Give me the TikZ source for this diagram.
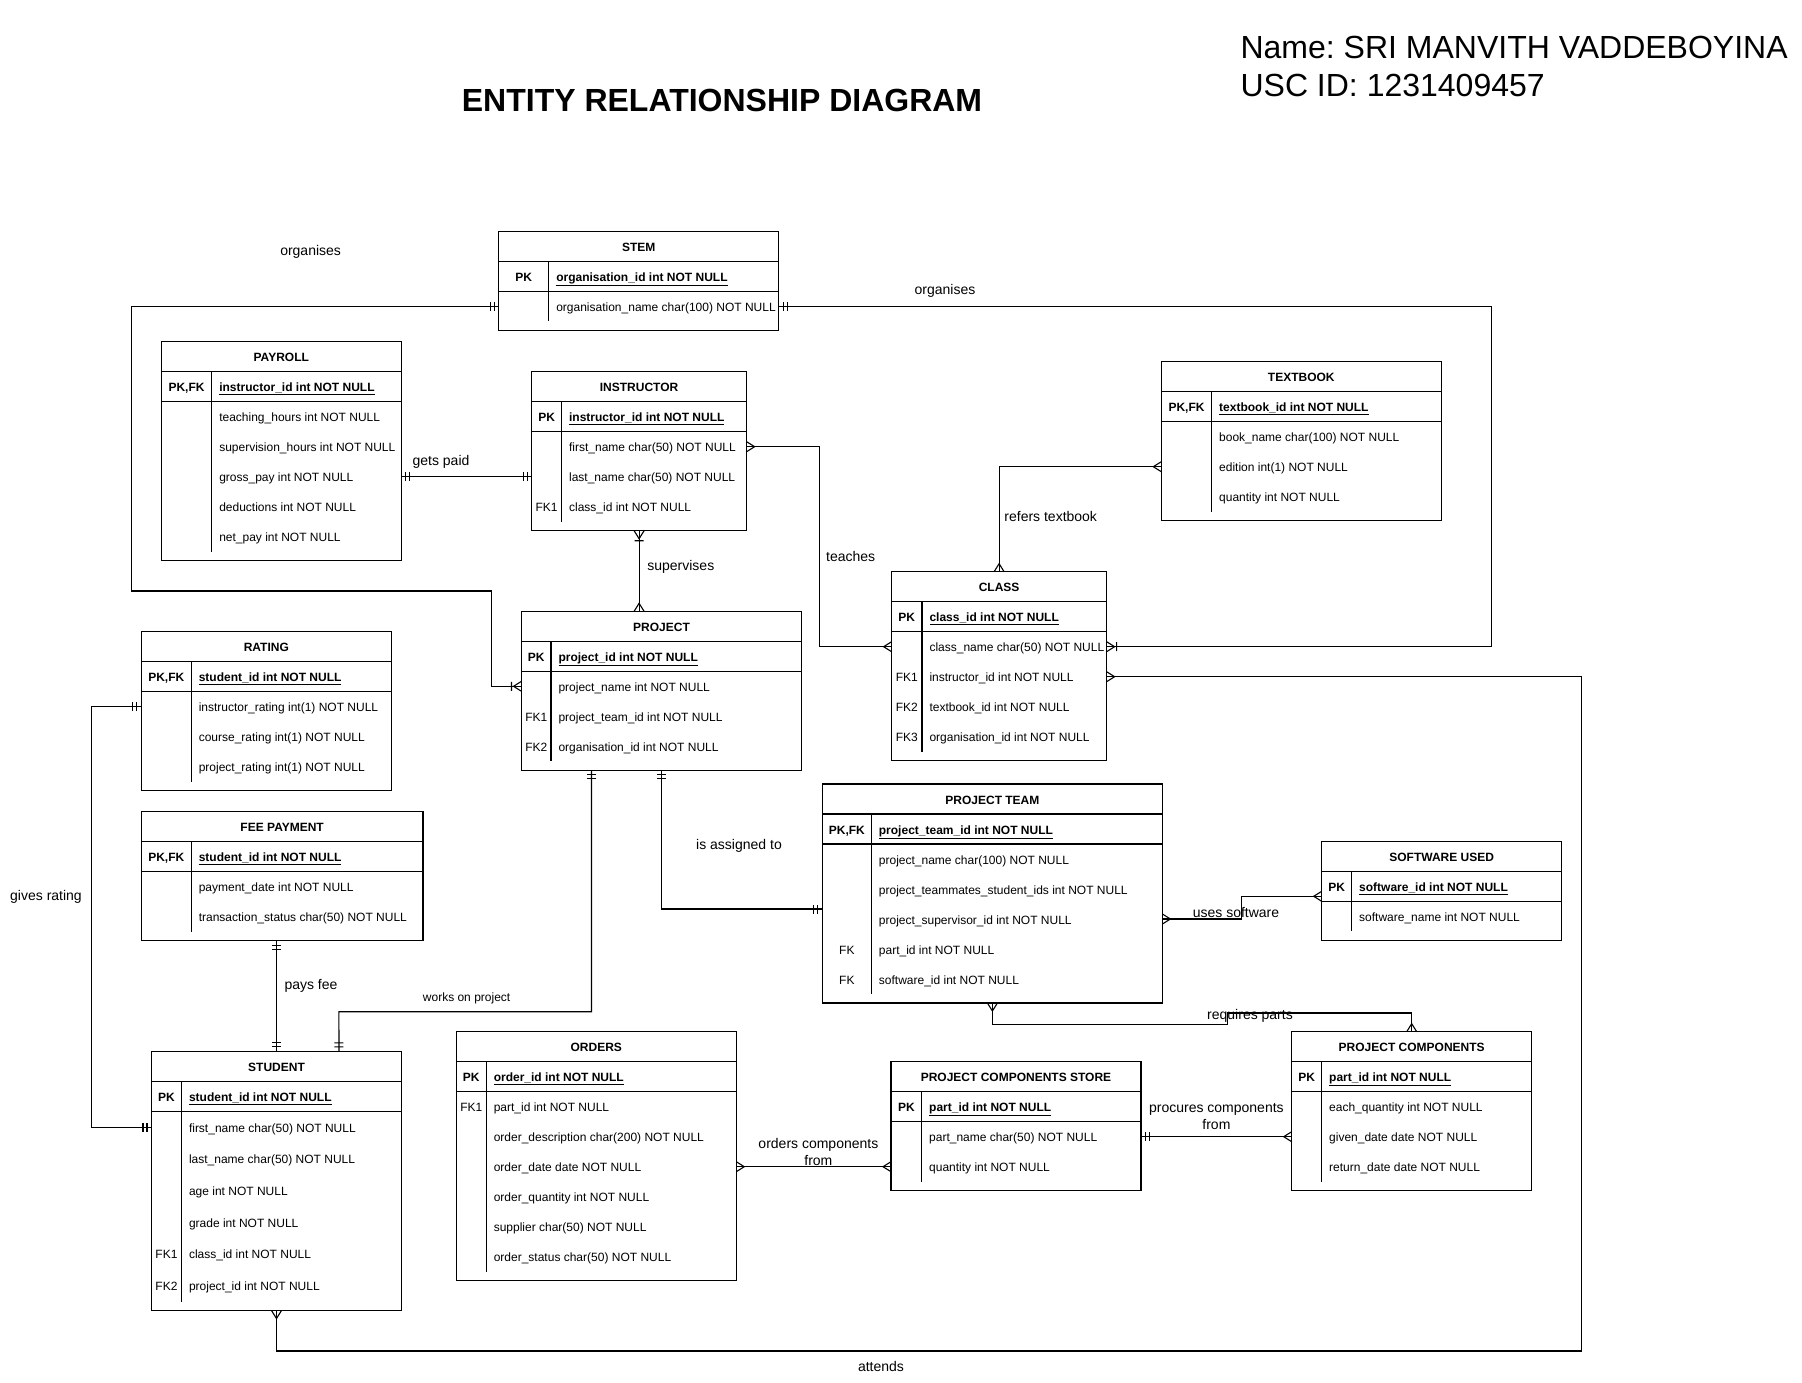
\documentclass[tikz,border=0pt]{standalone}
\usepackage{fontspec}
\setmainfont{Liberation Sans}
\usetikzlibrary{positioning,arrows.meta}
\frenchspacing

\newcommand{\cellfont}{\fontsize{12}{14}\selectfont}
\newcommand{\cellbold}{\fontsize{12}{14}\selectfont\bfseries}
\newcommand{\relfont}{\fontsize{14}{16.7}\selectfont}

% crow's foot ends
\pgfdeclarearrow{
  name=erone,
  setup code={\pgfarrowssettipend{0pt}\pgfarrowssetlineend{0pt}\pgfarrowssetbackend{-9pt}},
  drawing code={
    \pgfpathmoveto{\pgfqpoint{-4.5pt}{-4.5pt}}\pgfpathlineto{\pgfqpoint{-4.5pt}{4.5pt}}
    \pgfpathmoveto{\pgfqpoint{-8.5pt}{-4.5pt}}\pgfpathlineto{\pgfqpoint{-8.5pt}{4.5pt}}
    \pgfusepathqstroke}
}
\pgfdeclarearrow{
  name=ermany,
  setup code={\pgfarrowssettipend{0pt}\pgfarrowssetlineend{0pt}\pgfarrowssetbackend{-8pt}},
  drawing code={
    \pgfpathmoveto{\pgfqpoint{0pt}{5pt}}\pgfpathlineto{\pgfqpoint{-8pt}{0pt}}
    \pgfpathlineto{\pgfqpoint{0pt}{-5pt}}
    \pgfusepathqstroke}
}
\pgfdeclarearrow{
  name=eronemany,
  setup code={\pgfarrowssettipend{0pt}\pgfarrowssetlineend{0pt}\pgfarrowssetbackend{-10pt}},
  drawing code={
    \pgfpathmoveto{\pgfqpoint{0pt}{5pt}}\pgfpathlineto{\pgfqpoint{-8pt}{0pt}}
    \pgfpathlineto{\pgfqpoint{0pt}{-5pt}}
    \pgfpathmoveto{\pgfqpoint{-10pt}{-4.5pt}}\pgfpathlineto{\pgfqpoint{-10pt}{4.5pt}}
    \pgfusepathqstroke}
}

\tikzset{
  ertitle/.style={font=\cellbold, minimum height=30, inner sep=0, outer sep=0, text height=11pt, text depth=1pt},
  erkey/.style={font=\cellfont, inner sep=0, outer sep=0, text height=11pt, text depth=1pt},
  erfield/.style={font=\cellfont, inner sep=0, inner xsep=7.5pt, outer sep=0, text height=11pt, text depth=1pt},
  erframe/.style={draw, inner sep=0, outer sep=0},
  rel/.style={font=\relfont, inner sep=0},
}

% #1 name, #2 top left, #3 width, #4 key width, #5 row pitch, #6 title, #7 pk key, #8 pk field, #9 fields
\newcommand{\erentity}[9]{%
  \pgfmathsetlengthmacro\ertw{#3-#4-15}%
  \node[ertitle, minimum width=#3, anchor=north west] (#1-title) at (#2) {#6};
  \node[erkey, font=\cellbold, minimum width=#4, minimum height=30, anchor=north west] (#1-k0) at (#1-title.south west) {#7};
  \node[erfield, font=\cellbold, minimum height=30, anchor=west] (#1-t0) at (#1-k0.east) {\makebox[\ertw][l]{\underline{#8}}};
  \foreach \fkey/\ftxt [count=\i, remember=\i as \j (initially 0)] in {#9}{
    \node[erkey, minimum width=#4, minimum height=#5, anchor=north west] (#1-k\i) at (#1-k\j.south west) {\fkey};
    \node[erfield, minimum height=#5, anchor=west] (#1-t\i) at (#1-k\i.east) {\makebox[\ertw][l]{\ftxt}};
    \xdef\errows{\i}
  }
  \node[erframe, minimum width=#3, minimum height={60+\errows*#5+9}, anchor=north west] (#1) at (#2) {};
  \draw (#1-title.south west) -- (#1-title.south east);
  \draw (#1-k0.south west) -- (#1-k0.south west -| #1.east);
  \draw (#1-k0.north east) -- (#1-k\errows.south east);
}

\begin{document}
\begin{tikzpicture}[x=1pt, y=-1pt, line width=1.1pt]
  \fill[white] (0,0) rectangle (1802,1382);
  \useasboundingbox (0,0) rectangle (1802,1382);

  \node[font=\fontsize{32}{38}\selectfont\bfseries, inner sep=0] (heading) at (722,100) {ENTITY RELATIONSHIP DIAGRAM};
  \node[font=\fontsize{32}{38}\selectfont, anchor=west, inner sep=0] (name) at (1240,47) {Name: SRI MANVITH VADDEBOYINA};
  \node[font=\fontsize{32}{38}\selectfont, anchor=west, inner sep=0] (uscid) at (1240,85) {USC ID: 1231409457};

  \erentity{stem}{498.8,231.3}{280}{50}{30}{STEM}{PK}{organisation\_id int NOT NULL}{/organisation\_name char(100) NOT NULL}
  \erentity{payroll}{161.3,341.7}{240}{50.5}{30}{PAYROLL}{PK,FK}{instructor\_id int NOT NULL}{/teaching\_hours int NOT NULL, /supervision\_hours int NOT NULL, /gross\_pay int NOT NULL, /deductions int NOT NULL, /net\_pay int NOT NULL}
  \erentity{instructor}{531.6,371.7}{215}{30}{30}{INSTRUCTOR}{PK}{instructor\_id int NOT NULL}{/first\_name char(50) NOT NULL, /last\_name char(50) NOT NULL, FK1/class\_id int NOT NULL}
  \erentity{textbook}{1161.3,361.7}{280}{50.4}{30}{TEXTBOOK}{PK,FK}{textbook\_id int NOT NULL}{/book\_name char(100) NOT NULL, /edition int(1) NOT NULL, /quantity int NOT NULL}
  \erentity{class}{891.6,571.7}{215}{30.4}{30}{CLASS}{PK}{class\_id int NOT NULL}{/class\_name char(50) NOT NULL, FK1/instructor\_id int NOT NULL, FK2/textbook\_id int NOT NULL, FK3/organisation\_id int NOT NULL}
  \erentity{project}{521.5,611.3}{280}{29.5}{30}{PROJECT}{PK}{project\_id int NOT NULL}{/project\_name int NOT NULL, FK1/project\_team\_id int NOT NULL, FK2/organisation\_id int NOT NULL}
  \erentity{rating}{141.3,631.7}{250}{50}{30}{RATING}{PK,FK}{student\_id int NOT NULL}{/instructor\_rating int(1) NOT NULL, /course\_rating int(1) NOT NULL, /project\_rating int(1) NOT NULL}
  \erentity{fee}{141.3,811.7}{281.7}{50}{30}{FEE PAYMENT}{PK,FK}{student\_id int NOT NULL}{/payment\_date int NOT NULL, /transaction\_status char(50) NOT NULL}
  \erentity{pteam}{822.4,784}{340}{49}{30}{PROJECT TEAM}{PK,FK}{project\_team\_id int NOT NULL}{/project\_name char(100) NOT NULL, /project\_teammates\_student\_ids int NOT NULL, /project\_supervisor\_id int NOT NULL, FK/part\_id int NOT NULL, FK/software\_id int NOT NULL}
  \erentity{software}{1321.7,841.3}{240}{30}{30}{SOFTWARE USED}{PK}{software\_id int NOT NULL}{/software\_name int NOT NULL}
  \erentity{student}{151.5,1051.3}{250}{30}{31.7}{STUDENT}{PK}{student\_id int NOT NULL}{/first\_name char(50) NOT NULL, /last\_name char(50) NOT NULL, /age int NOT NULL, /grade int NOT NULL, FK1/class\_id int NOT NULL, FK2/project\_id int NOT NULL}
  \erentity{orders}{456.3,1031.7}{280}{30}{30}{ORDERS}{PK}{order\_id int NOT NULL}{FK1/part\_id int NOT NULL, /order\_description char(200) NOT NULL, /order\_date date NOT NULL, /order\_quantity int NOT NULL, /supplier char(50) NOT NULL, /order\_status char(50) NOT NULL}
  \erentity{pcstore}{891,1061.7}{250}{30.7}{30}{PROJECT COMPONENTS STORE}{PK}{part\_id int NOT NULL}{/part\_name char(50) NOT NULL, /quantity int NOT NULL}
  \erentity{pcomp}{1291.7,1031.7}{240}{30}{30}{PROJECT COMPONENTS}{PK}{part\_id int NOT NULL}{/each\_quantity int NOT NULL, /given\_date date NOT NULL, /return\_date date NOT NULL}

  % relationships
  \draw[erone-eronemany] (stem-k1.west) -| (131.5,591) -| (491.2,686.3) -- (project-k1.west);
  \draw[erone-eronemany] (stem-t1.east) -| (1491.7,646.7) -- (class-t1.east);
  \draw[erone-erone] (payroll-t3.east) -- (instructor-k2.west);
  \draw[ermany-ermany] (instructor-t1.east) -| (819.3,646.7) -- (class-k1.west);
  \draw[eronemany-ermany] (instructor.south) -- (instructor.south |- project.north);
  \draw[ermany-ermany] (textbook-k2.west) -| (class.north);
  \draw[ermany-ermany] (class-t2.east) -| (1581.5,1351) -| (student.south);
  \draw[erone-erone] (rating-k1.west) -| ([xshift=-60pt]student-k1.west) -- (student-k1.west);
  \draw[erone-erone] (fee.south -| student.north) -- (student.north);
  \draw[erone-erone] ([xshift=-70pt]project.south) |- (338.9,1011.7) -- ([xshift=62.5pt]student.north);
  \draw[erone-erone] (project.south) |- ([yshift=10pt]pteam-k3.west);
  \draw[ermany-ermany] (pteam-t3.east) -| (1241.7,896.3) -- ([yshift=5pt]software-k0.south west);
  \draw[ermany-ermany] (pteam.south) |- (1227.2,1024.7) -- (1227.2,1013) -| (pcomp.north);
  \draw[ermany-erone] (pcomp-k2.west) -- (pcstore-t1.east);
  \draw[ermany-ermany] (pcstore-k2.west) -- (orders-t3.east);

  \node[rel] (organisesleft) at (310.6,251.7) {organises};
  \node[rel] (organisesright) at (945,291) {organises};
  \node[rel] (getspaid) at (441,461.7) {gets paid};
  \node[rel] (teaches) at (850.7,556) {teaches};
  \node[rel] (supervises) at (680.8,566.7) {supervises};
  \node[rel] (refers) at (1050.7,516.7) {refers textbook};
  \node[rel] (assigned) at (739,846) {is assigned to};
  \node[rel] (usessoftware) at (1236,912.7) {uses software};
  \node[rel] (requires) at (1250,1016) {requires parts};
  \node[rel] (givesrating) at (46,896.7) {gives rating};
  \node[rel] (paysfee) at (311,986) {pays fee};
  \node[rel, font=\cellfont] (workson) at (466.6,998.5) {works on project};
  \node[rel, align=center] (orderslbl) at (818.4,1151.7) {orders components\\from};
  \node[rel, align=center] (procures) at (1216.4,1116.7) {procures components\\from};
  \node[rel] (attends) at (881,1366.7) {attends};
\end{tikzpicture}
\end{document}
